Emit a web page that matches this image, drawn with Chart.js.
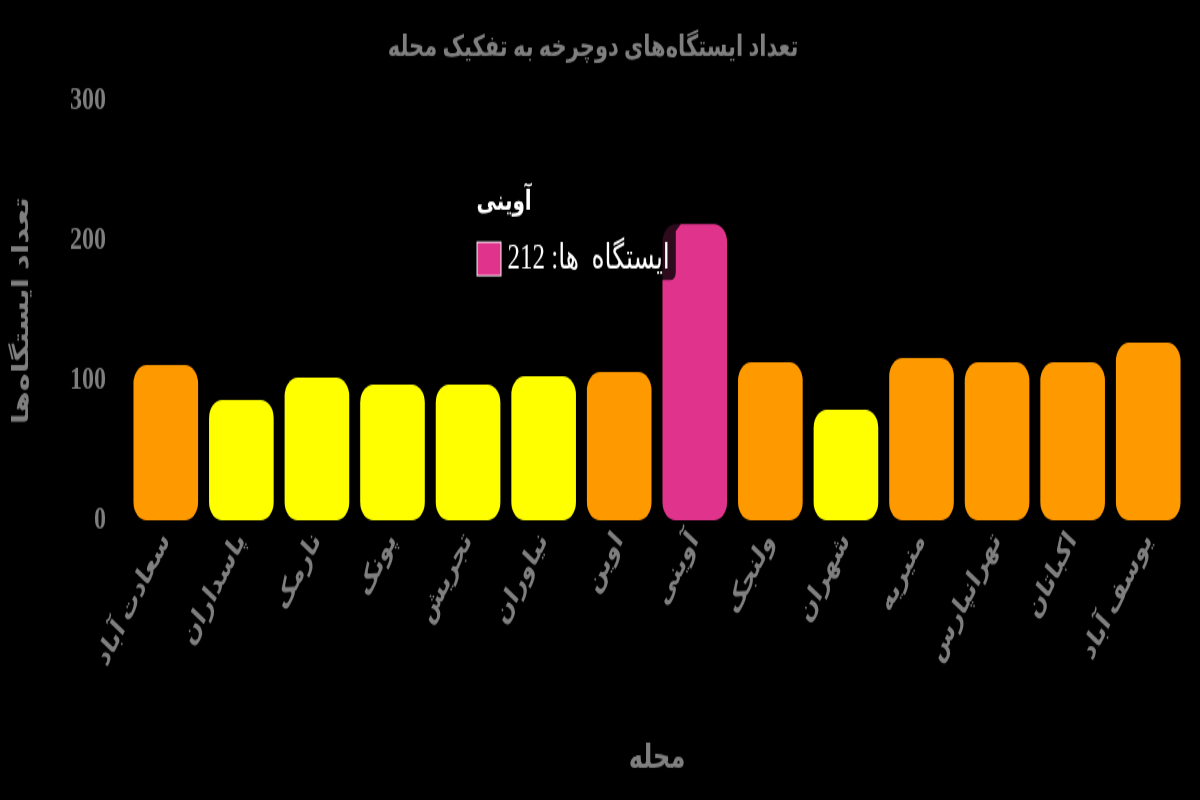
<!DOCTYPE html>
<html lang="fa">
<head>
<meta charset="utf-8">
<title>تعداد ایستگاه‌ها</title>
<script src="https://cdn.jsdelivr.net/npm/chart.js@4.4.1/dist/chart.umd.min.js"></script>
<style>
  html, body { margin: 0; padding: 0; background: #000; overflow: hidden; }
  canvas { background: #000; }
</style>
</head>
<body>
<!-- the reference is stretched vertically: 572 px of drawing shown as 800 px -->
<canvas id="stationsChart" width="1200" height="572" dir="rtl" style="width:1200px;height:800px;display:block"></canvas>
<script>
// داده‌ها
const districts = ["سعادت آباد", "پاسداران", "نارمک", "پونک", "تجریش", "نیاوران", "اوین",
                   "آوینی", "ولنجک", "شهران", "منیریه", "تهرانپارس", "اکباتان", "یوسف آباد"];
const stations = [111, 86, 102, 97, 97, 103, 106, 212, 113, 79, 116, 113, 113, 127];
const yTicks = [0, 100, 200, 300];

const seriesLabel = "ایستگاه  ها";
const chartTitle = "تعداد ایستگاه‌های دوچرخه به تفکیک محله";
const xTitle = "محله";
const yTitle = "تعداد ایستگاه‌ها";

const GRAY = "#7f7f7f";
const PINK = "#e0338c";
const ORANGE = "#ff9900";
const YELLOW = "#ffff00";

const maxVal = Math.max(...stations);
function barColor(v) {
  if (v === maxVal) return PINK;
  return v > 105 ? ORANGE : YELLOW;
}
const colors = stations.map(barColor);

// tooltip at the top of the bar (like the old Chart.js)
Chart.Tooltip.positioners.barTop = function(items) {
  if (!items.length) return false;
  const el = items[0].element;
  return { x: el.x, y: el.y };
};

Chart.defaults.font.family = "'Liberation Serif', 'DejaVu Sans', serif";

const chart = new Chart(document.getElementById("stationsChart"), {
  type: "bar",
  data: {
    labels: districts,
    datasets: [{
      label: seriesLabel,
      data: stations,
      backgroundColor: colors,
      hoverBackgroundColor: colors,
      borderWidth: 0,
      borderRadius: 13,
      borderSkipped: false,
      barPercentage: 0.95,
      categoryPercentage: 0.9
    }]
  },
  options: {
    responsive: false,
    animation: false,
    devicePixelRatio: 1,
    layout: { padding: { left: 0, right: 14, top: 0, bottom: 11 } },
    plugins: {
      legend: { display: false },
      title: {
        display: true, text: chartTitle, color: GRAY,
        font: { size: 21, weight: "bold" },
        padding: { top: 22, bottom: 25 }
      },
      tooltip: {
        position: "barTop",
        backgroundColor: "rgba(0,0,0,0.8)",
        titleColor: "#fff", bodyColor: "#fff",
        titleFont: { size: 20, weight: "bold" },
        bodyFont: { size: 25 },
        titleMarginBottom: 13,
        padding: { top: 13, bottom: 0, left: 6, right: 6 },
        caretSize: 5,
        caretPadding: 14,
        boxPadding: 4
      }
    },
    scales: {
      x: {
        grid: { display: false, drawTicks: false },
        border: { display: false },
        ticks: { color: GRAY, font: { size: 21, weight: "bold" }, minRotation: 55, maxRotation: 55, autoSkip: false, padding: 4 },
        title: { display: true, text: xTitle, color: GRAY, font: { size: 24, weight: "bold" }, padding: { top: 4, bottom: 4 } },
        afterFit: function(s) { s.height = 189; }
      },
      y: {
        min: 0, max: 300,
        grid: { display: false, drawTicks: false },
        border: { display: false },
        ticks: { color: GRAY, font: { size: 24, weight: "bold" }, padding: 22 },
        afterBuildTicks: function(s) { s.ticks = yTicks.map(v => ({ value: v })); },
        title: { display: true, text: yTitle, color: GRAY, font: { size: 22, weight: "bold" }, padding: { top: 9, bottom: 4 } },
        afterFit: function(s) { s.width = 128; }
      }
    }
  }
});

// نمایش تولتیپ روی بیشترین مقدار
const peak = stations.indexOf(maxVal);
chart.tooltip.setActiveElements([{ datasetIndex: 0, index: peak }], { x: 0, y: 0 });
chart.update();
</script>
</body>
</html>
